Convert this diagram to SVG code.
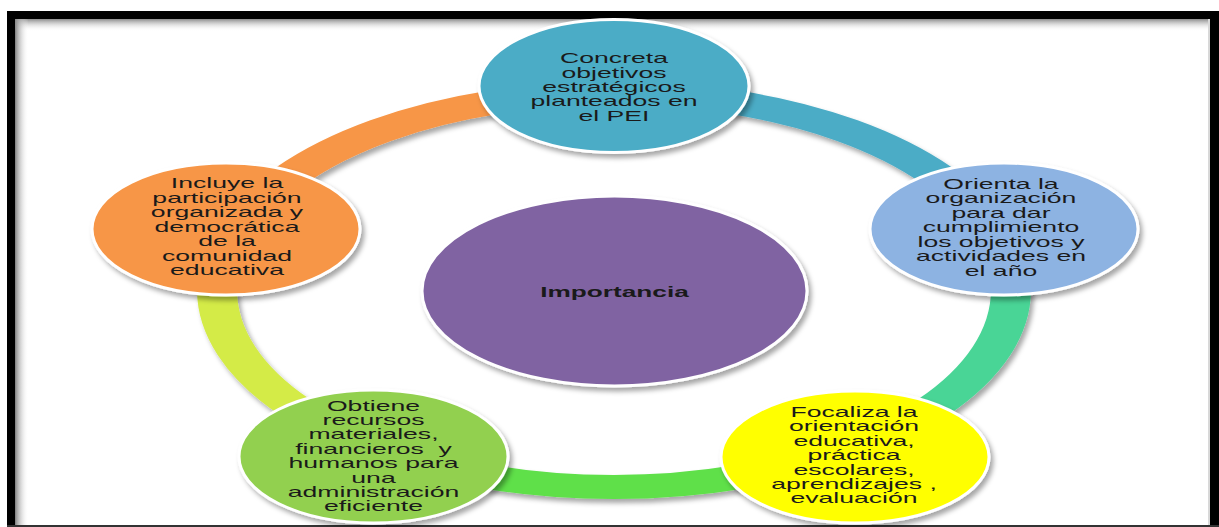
<svg xmlns="http://www.w3.org/2000/svg" width="1219" height="527" viewBox="0 0 1219 527">
  <defs>
    <linearGradient id="gTop" x1="0" y1="0" x2="0" y2="1">
      <stop offset="0" stop-color="#8c8c8c"/>
      <stop offset="1" stop-color="#ffffff" stop-opacity="0"/>
    </linearGradient>
    <linearGradient id="gLeft" x1="0" y1="0" x2="1" y2="0">
      <stop offset="0" stop-color="#8c8c8c"/>
      <stop offset="1" stop-color="#ffffff" stop-opacity="0"/>
    </linearGradient>
    <filter id="shadow" x="-10%" y="-10%" width="125%" height="130%">
      <feDropShadow dx="3" dy="4" stdDeviation="2.5" flood-color="#000" flood-opacity="0.35"/>
    </filter>
    <style>
      .node { stroke: #ffffff; stroke-width: 3; filter: url(#shadow); }
      .lbl { font-family: "Liberation Sans", Arial, sans-serif; font-size: 14px; fill: #1a1a1a; text-anchor: middle; }
      .pre { white-space: pre; }
      .ctr { font-family: "Liberation Sans", Arial, sans-serif; font-size: 15px; font-weight: bold; fill: #1a1a1a; text-anchor: middle; }
      .arc { fill: none; stroke-width: 24; }
    </style>
  </defs>

  <!-- frame -->
  <rect x="0" y="0" width="1219" height="527" fill="#ffffff"/>
  <rect x="7" y="11" width="1212" height="516" fill="#000000"/>
  <rect x="15.5" y="19" width="1194.5" height="506" fill="#ffffff"/>
  <rect x="15.5" y="19" width="1194.5" height="12" fill="url(#gTop)"/>
  <rect x="15.5" y="19" width="13" height="506" fill="url(#gLeft)"/>
  <rect x="1208" y="19" width="2" height="506" fill="#d8d8d8"/>
  <rect x="7" y="525" width="1212" height="2" fill="#333333"/>

  <!-- connectors: ring arcs -->
  <g id="connectors" filter="url(#shadow)">
    <g transform="translate(614,290) scale(1.6667,1)">
      <path class="arc" stroke="#4BACC6" d="M 0 -197 A 238.2 197 0 0 1 226.5 -60.9"/>
      <path class="arc" stroke="#48D596" d="M 226.5 -60.9 A 238.2 197 0 0 1 140 159.4"/>
      <path class="arc" stroke="#5EE04A" d="M 140 159.4 A 238.2 197 0 0 1 -140 159.4"/>
      <path class="arc" stroke="#D4EB47" d="M -140 159.4 A 238.2 197 0 0 1 -226.5 -60.9"/>
      <path class="arc" stroke="#F79646" d="M -226.5 -60.9 A 238.2 197 0 0 1 0 -197"/>
    </g>
  </g>

  <!-- center -->
  <g id="node-center">
    <ellipse class="node" cx="614.5" cy="291" rx="192.5" ry="95" fill="#8064A2"/>
    <text class="ctr" transform="translate(614.5,0) scale(1.75,1)" x="0" y="297">Importancia</text>
  </g>

  <!-- top -->
  <g id="node-top">
    <ellipse class="node" cx="614" cy="86" rx="135" ry="66.5" fill="#4BACC6"/>
    <text class="lbl" transform="translate(614,0) scale(1.9,1)"><tspan x="0" y="63.5">Concreta</tspan><tspan x="0" y="77.8">objetivos</tspan><tspan x="0" y="92.1">estratégicos</tspan><tspan x="0" y="106.4">planteados en</tspan><tspan x="0" y="120.7">el PEI</tspan></text>
  </g>

  <!-- right -->
  <g id="node-right">
    <ellipse class="node" cx="1004" cy="229" rx="134" ry="66" fill="#8DB3E2"/>
    <text class="lbl" transform="translate(1001,0) scale(1.9,1)"><tspan x="0" y="189">Orienta la</tspan><tspan x="0" y="203.5">organización</tspan><tspan x="0" y="218">para dar</tspan><tspan x="0" y="232.5">cumplimiento</tspan><tspan x="0" y="247">los objetivos y</tspan><tspan x="0" y="261.5">actividades en</tspan><tspan x="0" y="276">el año</tspan></text>
  </g>

  <!-- bottom right -->
  <g id="node-bottom-right">
    <ellipse class="node" cx="855" cy="457" rx="134" ry="66" fill="#FFFF00"/>
    <text class="lbl" transform="translate(854,0) scale(1.9,1)"><tspan x="0" y="417">Focaliza la</tspan><tspan x="0" y="431.4">orientación</tspan><tspan x="0" y="445.8">educativa,</tspan><tspan x="0" y="460.2">práctica</tspan><tspan x="0" y="474.6">escolares,</tspan><tspan x="0" y="489">aprendizajes ,</tspan><tspan x="0" y="503.4">evaluación</tspan></text>
  </g>

  <!-- bottom left -->
  <g id="node-bottom-left">
    <ellipse class="node" cx="373.5" cy="456.5" rx="134.5" ry="66.5" fill="#92D050"/>
    <text class="lbl" transform="translate(373.5,0) scale(1.9,1)"><tspan x="0" y="410.7">Obtiene</tspan><tspan x="0" y="425.1">recursos</tspan><tspan x="0" y="439.5">materiales,</tspan><tspan class="pre" x="0" y="453.9">financieros  y</tspan><tspan x="0" y="468.3">humanos para</tspan><tspan x="0" y="482.7">una</tspan><tspan x="0" y="497.1">administración</tspan><tspan x="0" y="511.5">eficiente</tspan></text>
  </g>

  <!-- left -->
  <g id="node-left">
    <ellipse class="node" cx="226" cy="229" rx="134" ry="66" fill="#F79646"/>
    <text class="lbl" transform="translate(227,0) scale(1.9,1)"><tspan x="0" y="188.5">Incluye la</tspan><tspan x="0" y="203">participación</tspan><tspan x="0" y="217.5">organizada y</tspan><tspan x="0" y="232">democrática</tspan><tspan x="0" y="246.5">de la</tspan><tspan x="0" y="261">comunidad</tspan><tspan x="0" y="275.5">educativa</tspan></text>
  </g>
</svg>
